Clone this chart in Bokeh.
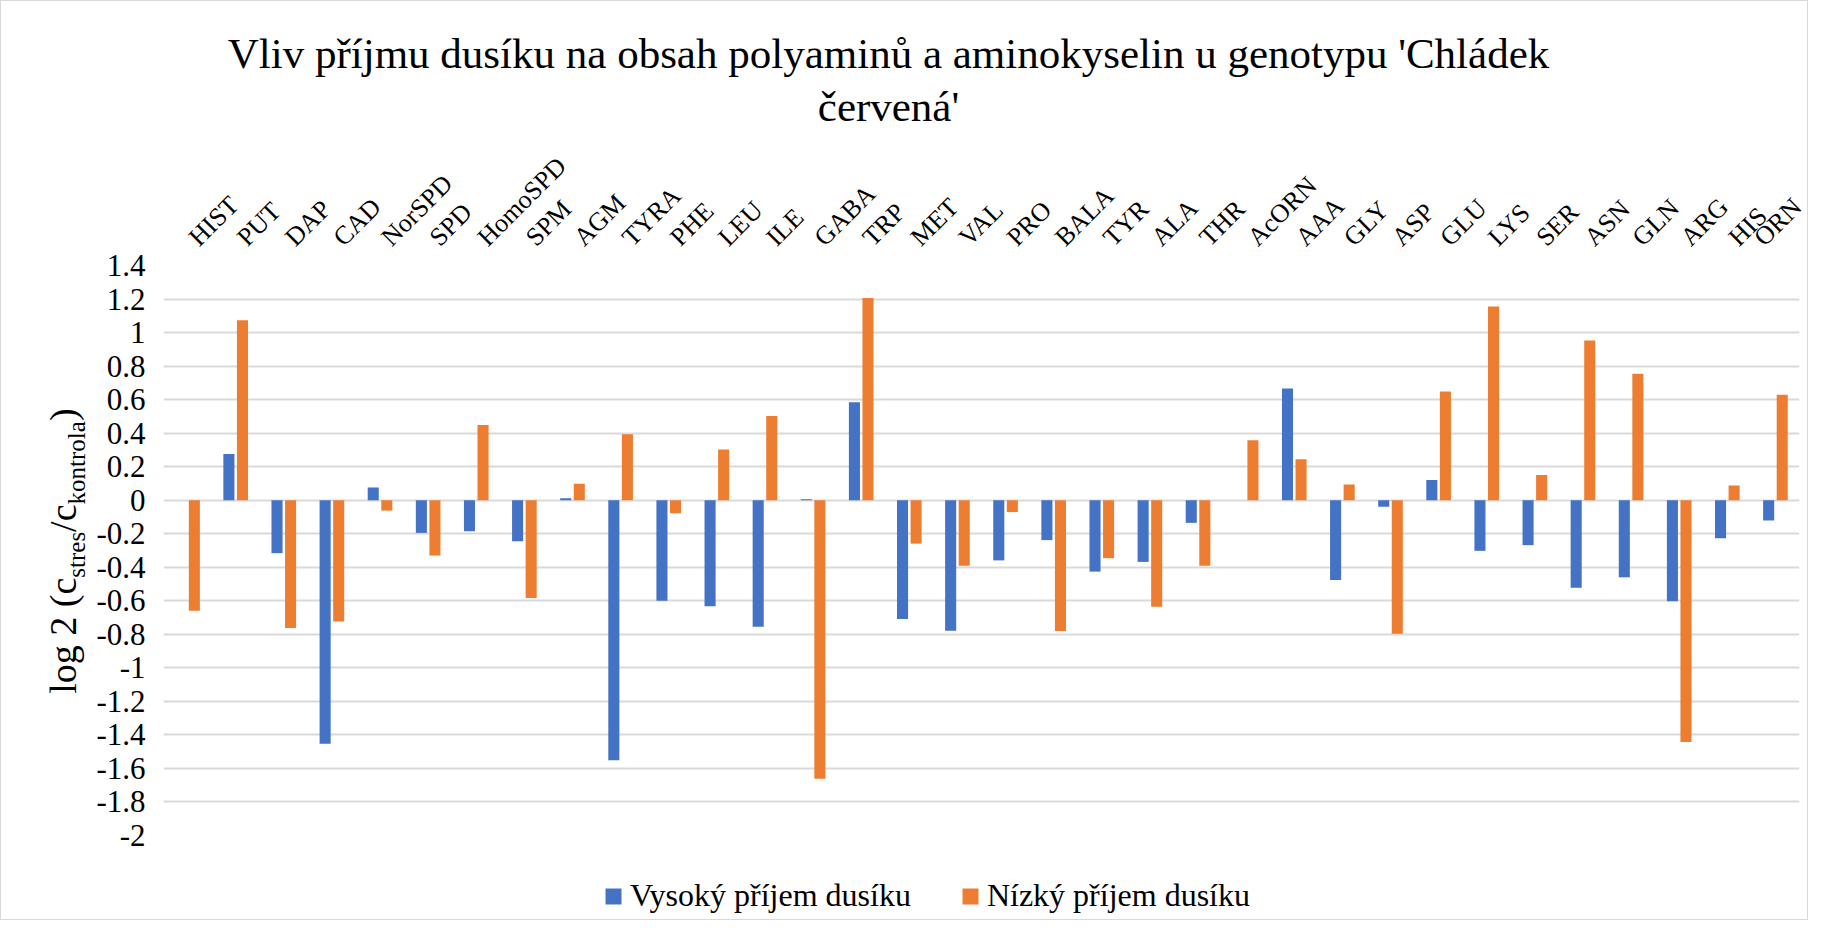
from math import pi
from bokeh.plotting import figure
from bokeh.models import (Range1d, FixedTicker, NumeralTickFormatter, ColumnDataSource,
                          Legend, LegendItem)
from bokeh.layouts import row, column
from bokeh.core.properties import value
from bokeh.embed import file_html
from bokeh.resources import INLINE

# ---------------- data ----------------
categories = ["HIST", "PUT", "DAP", "CAD", "NorSPD", "SPD", "HomoSPD", "SPM", "AGM", "TYRA",
              "PHE", "LEU", "ILE", "GABA", "TRP", "MET", "VAL", "PRO", "BALA", "TYR",
              "ALA", "THR", "AcORN", "AAA", "GLY", "ASP", "GLU", "LYS", "SER", "ASN",
              "GLN", "ARG", "HIS", "ORN"]
vysoky = [0.0, 0.275, -0.316, -1.453, 0.076, -0.195, -0.185, -0.245, 0.011, -1.551,
          -0.600, -0.632, -0.755, 0.005, 0.584, -0.709, -0.778, -0.359, -0.238, -0.426,
          -0.368, -0.135, 0.0, 0.666, -0.476, -0.039, 0.121, -0.302, -0.268, -0.522,
          -0.460, -0.602, -0.227, -0.121]
nizky = [-0.659, 1.073, -0.762, -0.723, -0.062, -0.330, 0.449, -0.584, 0.098, 0.394,
         -0.078, 0.302, 0.503, -1.661, 1.206, -0.259, -0.391, -0.071, -0.780, -0.346,
         -0.636, -0.391, 0.357, 0.245, 0.094, -0.796, 0.648, 1.156, 0.151, 0.952,
         0.755, -1.442, 0.087, 0.629]
y_ticks = [round(-2 + 0.2 * i, 1) for i in range(18)]
series_names = ["Vysoký příjem dusíku", "Nízký příjem dusíku"]
title_lines = ["Vliv příjmu dusíku na obsah polyaminů a aminokyselin u genotypu 'Chládek",
               "červená'"]
y_title_parts = [("log 2 (c", False), ("stres", True), ("/c", False), ("kontrola", True), (")", False)]

# ---------------- style / layout ----------------
FONT = "Liberation Serif"
BLUE = "#4472C4"
ORANGE = "#ED7D31"
GRID = "#D9D9D9"
W = 1806
HT, HM, HB = 134, 735, 49          # heights: title strip, main row, legend strip
WL = 90                             # width of y-title strip
WM = W - WL
ML, MR, MT, MB = 72, 8, 130, 35     # main figure borders
FH = HM - MT - MB

SHIFT = -0.12   # category centre relative to its (label) tick
BAR_W = 0.23
OFF = 0.141
n = len(categories)
idx = list(range(n))


def blank(width, height, top=0, bottom=0):
    f = figure(width=width, height=height, output_backend="svg", toolbar_location=None,
               title=None, x_range=Range1d(0, width), y_range=Range1d(0, height - top - bottom),
               x_axis_location=None, y_axis_location=None, min_border=0,
               min_border_top=top, min_border_bottom=bottom)
    f.outline_line_color = None
    f.grid.visible = False
    f.background_fill_color = "white"
    f.border_fill_color = "white"
    return f


# ---------------- main chart ----------------
p = figure(width=WM, height=HM, output_backend="svg", toolbar_location=None, title=None,
           x_range=Range1d(SHIFT - 0.5, n - 0.5 + SHIFT), y_range=Range1d(-2, 1.4),
           x_axis_location="above",
           min_border_left=ML, min_border_right=MR, min_border_top=MT, min_border_bottom=MB)
p.outline_line_color = None
p.background_fill_color = "white"
p.border_fill_color = "white"

src = ColumnDataSource(dict(
    xb=[i + SHIFT - OFF for i in idx],
    xo=[i + SHIFT + OFF for i in idx],
    vys=vysoky, niz=nizky, cat=categories))

p.vbar(x="xb", top="vys", bottom=0, width=BAR_W, source=src, fill_color=BLUE, line_color=None)
p.vbar(x="xo", top="niz", bottom=0, width=BAR_W, source=src, fill_color=ORANGE, line_color=None)

xa = p.xaxis[0]
xa.ticker = FixedTicker(ticks=idx)
xa.major_label_overrides = {i: c for i, c in enumerate(categories)}
xa.major_label_orientation = pi / 4
xa.axis_line_color = None
xa.major_tick_line_color = None
xa.minor_tick_line_color = None
xa.major_tick_in = 0
xa.major_tick_out = 0
xa.major_label_standoff = 24
xa.major_label_text_font = FONT
xa.major_label_text_font_size = "26px"
xa.major_label_text_color = "black"
p.xgrid.visible = False

ya = p.yaxis[0]
ya.ticker = FixedTicker(ticks=y_ticks)
ya.formatter = NumeralTickFormatter(format="0.[0]")
ya.axis_line_color = None
ya.major_tick_line_color = None
ya.minor_tick_line_color = None
ya.major_tick_in = 0
ya.major_tick_out = 0
ya.major_label_standoff = 18
ya.major_label_text_font = FONT
ya.major_label_text_font_size = "31px"
ya.major_label_text_color = "black"
p.ygrid.ticker = FixedTicker(ticks=y_ticks)
p.ygrid.grid_line_color = GRID
p.ygrid.grid_line_width = 2

# ---------------- title strip ----------------
t = blank(W, HT)
t.text(x=[887, 887], y=[HT - 52.3, HT - 105], text=title_lines,
       text_font=value(FONT), text_font_size=value("43px"), text_color="black",
       text_align="center", text_baseline="alphabetic")

# ---------------- y-title strip (frame aligned with the main plot frame) ----------------
lft = blank(WL, HM, top=MT, bottom=MB)
widths = {'l': .278, 'o': .5, 'g': .5, ' ': .25, '2': .5, '(': .333, 'c': .444, 's': .389,
          't': .278, 'r': .333, 'e': .444, '/': .278, 'k': .5, 'n': .5, 'a': .444, ')': .333}
ypos = 141.7
for txt, sub in y_title_parts:
    size = 25 if sub else 38
    lft.text(x=[75.0 if sub else 61.8], y=[ypos], text=[txt], angle=pi / 2,
             text_font=value(FONT), text_font_size=value(f"{size}px"), text_color="black",
             text_align="left", text_baseline="alphabetic")
    ypos += sum(widths[ch] for ch in txt) * size

# ---------------- legend strip ----------------
b = blank(W, HB)
lb = b.vbar(x=[-50], top=[0], width=1, fill_color=BLUE, line_color=None)
lo = b.vbar(x=[-50], top=[0], width=1, fill_color=ORANGE, line_color=None)
legend = Legend(items=[LegendItem(label=series_names[0], renderers=[lb], index=0),
                       LegendItem(label=series_names[1], renderers=[lo], index=0)],
                location=(602, 5), orientation="horizontal",
                padding=0, margin=0, spacing=49, label_standoff=7,
                glyph_width=20, glyph_height=20,
                label_text_font=FONT, label_text_font_size="32px", label_text_color="black",
                border_line_color=None, background_fill_alpha=0)
b.add_layout(legend)

layout = column(t, row(lft, p), b, styles={"border": "1px solid #D9D9D9"})

open("out.html", "w").write(file_html(layout, INLINE))
